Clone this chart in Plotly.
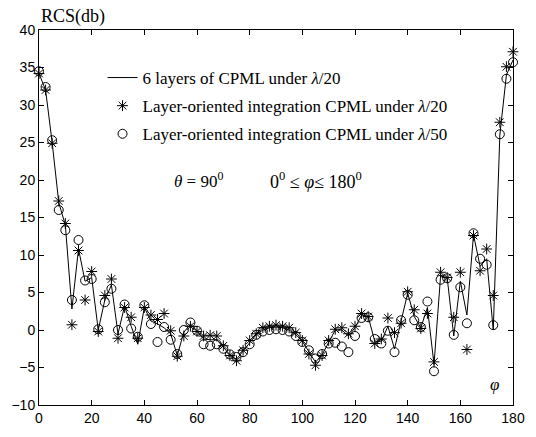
import plotly.graph_objects as go

phi = [i * 2.5 for i in range(73)]

cpml_6layer = [34.2, 32.0, 25.0, 17.0, 14.0, 2.8, 10.8, 6.5, 7.0, 0.0,
               4.0, 6.0, -0.5, 3.2, 0.5, -1.9, 3.0, 1.2, 0.8, 0.3,
               -0.5, -3.4, -0.3, 0.8, -0.1, -1.2, -1.3, -1.3, -2.3, -3.3,
               -3.9, -2.8, -1.6, -0.6, 0.0, 0.3, 0.4, 0.3, 0.0, -0.6,
               -1.5, -3.0, -4.3, -3.3, -1.6, 0.0, 0.0, -0.8, 0.3, 2.0,
               1.8, -1.5, -1.5, 0.5, -2.5, 1.0, 4.9, 1.8, 0.3, 3.0,
               -4.6, 7.2, 7.0, -0.8, 6.5, 2.0, 12.7, 8.5, 9.5, 0.0,
               26.0, 34.0, 36.0]

layer_l20 = [34.2, 32.0, 24.9, 17.2, 14.2, 0.7, 10.6, 4.0, 7.8, -0.2,
             4.6, 6.8, -1.1, 3.0, 1.7, -1.1, 3.0, 2.0, 1.4, 2.2,
             -0.1, -3.5, -0.8, 0.5, -0.2, -0.8, -0.7, -0.8, -2.1, -3.4,
             -4.1, -2.7, -1.4, -0.5, 0.3, 0.5, 0.65, 0.5, 0.3, -0.35,
             -1.4, -3.2, -4.7, -3.4, -1.4, 0.1, 0.3, -0.5, 0.5, 2.2,
             1.8, -1.8, -1.2, 1.6, -0.35, 0.9, 5.1, 2.7, 0.2, 2.2,
             -4.25, 7.7, 7.0, 1.7, 7.7, -2.6, 12.6, 7.9, 10.8, 4.6,
             27.7, 35.1, 37.1]

layer_l50 = [34.5, 32.4, 25.3, 16.0, 13.3, 4.0, 12.0, 6.6, 6.8, 0.1,
             3.7, 5.5, 0.0, 3.4, 0.2, -0.9, 3.3, 0.8, -1.6, 0.4,
             -1.3, -3.2, 0.0, 1.0, -0.1, -1.9, -2.1, -1.9, -2.5, -3.25,
             -3.6, -2.95, -1.9, -0.65, -0.2, 0.0, 0.1, 0.0, -0.2, -0.8,
             -1.6, -2.7, -3.8, -3.2, -1.8, -1.7, -2.2, -2.95, -0.8, 1.6,
             1.7, -1.2, -1.8, -0.1, -2.95, 1.3, 4.7, 1.3, 0.4, 3.8,
             -5.5, 6.7, 6.9, -0.65, 5.7, 0.9, 12.9, 9.5, 8.7, 0.65,
             26.1, 33.5, 35.7]

x_ticks = [0, 20, 40, 60, 80, 100, 120, 140, 160, 180]
y_ticks = [-10, -5, 0, 5, 10, 15, 20, 25, 30, 35, 40]

serif = "Liberation Serif, Times New Roman, serif"
sans = "Liberation Sans, Arial, sans-serif"

fig = go.Figure()
fig.add_trace(go.Scatter(x=phi, y=cpml_6layer, mode="lines",
                         line=dict(color="black", width=1),
                         name="6 layers of CPML under <i>λ</i>/20",
                         legendgroup="a", cliponaxis=False))
fig.add_trace(go.Scatter(x=phi, y=layer_l20, mode="markers",
                         marker=dict(symbol="asterisk-open", size=9,
                                     color="black", line=dict(color="black", width=1)),
                         name="Layer-oriented integration CPML under <i>λ</i>/20",
                         legendgroup="b", cliponaxis=False))
fig.add_trace(go.Scatter(x=phi, y=layer_l50, mode="markers",
                         marker=dict(symbol="circle-open", size=9,
                                     color="black", line=dict(color="black", width=1)),
                         name="Layer-oriented integration CPML under <i>λ</i>/50",
                         legendgroup="c", cliponaxis=False))

axis_common = dict(showline=True, linecolor="black", linewidth=1, mirror="ticks",
                   ticks="inside", ticklen=5, tickcolor="black", showgrid=False,
                   zeroline=False, ticklabeloverflow="allow",
                   tickfont=dict(family=sans, size=14, color="black"))

fig.update_xaxes(range=[0, 180], tickvals=x_ticks, **axis_common)
fig.update_yaxes(range=[-10, 40], tickvals=y_ticks, **axis_common)

fig.update_layout(
    width=536, height=437,
    margin=dict(l=33, r=11, t=30, b=21),
    paper_bgcolor="white", plot_bgcolor="white",
    showlegend=True,
    legend=dict(x=0.134, y=0.92, xanchor="left", yanchor="top",
                bgcolor="rgba(255,255,255,0)", borderwidth=0,
                font=dict(family=serif, size=17, color="black"),
                tracegroupgap=3, itemwidth=30),
    annotations=[
        dict(text="RCS(db)", xref="paper", yref="paper", x=0.0, y=1.0,
             xanchor="left", yanchor="bottom", yshift=1, showarrow=False,
             font=dict(family=serif, size=18, color="black")),
        dict(text="<i>θ</i> = 90<sup>0</sup>", xref="x", yref="y", x=50.5, y=20,
             xanchor="left", yanchor="middle", showarrow=False,
             font=dict(family=serif, size=17, color="black")),
        dict(text="0<sup>0</sup> ≤ <i>φ</i>≤ 180<sup>0</sup>", xref="x", yref="y", x=87, y=20,
             xanchor="left", yanchor="middle", showarrow=False,
             font=dict(family=serif, size=18, color="black")),
        dict(text="<i>φ</i>", xref="x", yref="y", x=173, y=-7.3,
             xanchor="center", yanchor="middle", showarrow=False,
             font=dict(family=serif, size=17, color="black")),
    ],
)

fig.write_html("out.html", config={"displayModeBar": False},
               post_script="document.body.style.margin='0';document.body.style.overflow='hidden';")
